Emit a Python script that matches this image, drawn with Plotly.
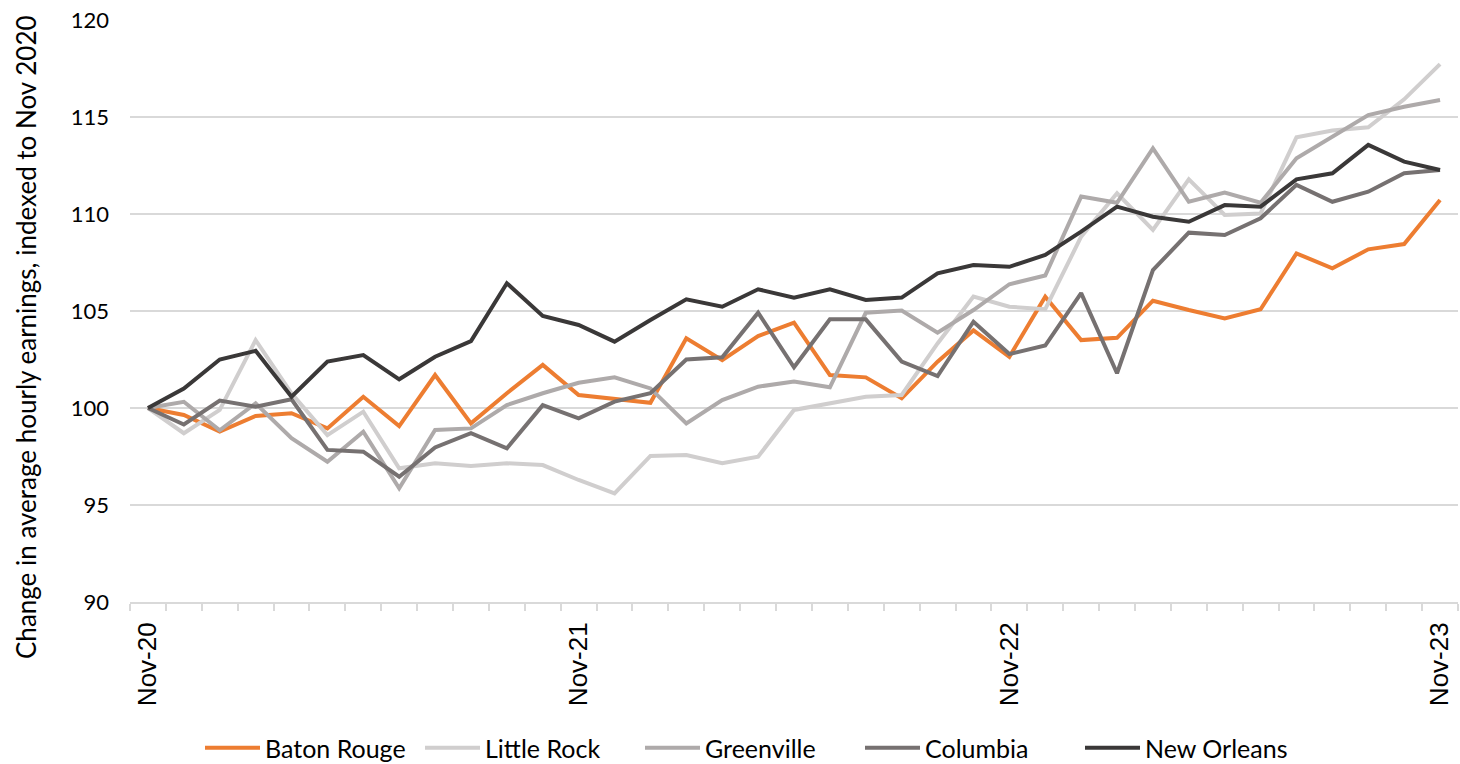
import plotly.graph_objects as go

months = ["Nov-20", "Dec-20", "Jan-21", "Feb-21", "Mar-21", "Apr-21", "May-21", "Jun-21",
          "Jul-21", "Aug-21", "Sep-21", "Oct-21", "Nov-21", "Dec-21", "Jan-22", "Feb-22",
          "Mar-22", "Apr-22", "May-22", "Jun-22", "Jul-22", "Aug-22", "Sep-22", "Oct-22",
          "Nov-22", "Dec-22", "Jan-23", "Feb-23", "Mar-23", "Apr-23", "May-23", "Jun-23",
          "Jul-23", "Aug-23", "Sep-23", "Oct-23", "Nov-23"]

baton_rouge = [100.0, 99.64, 98.78, 99.59, 99.73, 98.95, 100.58, 99.07, 101.7, 99.21,
               100.76, 102.22, 100.67, 100.45, 100.27, 103.59, 102.47, 103.71, 104.4, 101.7,
               101.58, 100.5, 102.39, 104.0, 102.64, 105.74, 103.5, 103.62, 105.53, 105.05,
               104.62, 105.09, 107.97, 107.2, 108.18, 108.45, 110.72]

little_rock = [100.0, 98.7, 99.9, 103.5, 100.76, 98.6, 99.81, 96.89, 97.15, 97.01,
               97.15, 97.06, 96.29, 95.6, 97.53, 97.58, 97.15, 97.49, 99.9, 100.24,
               100.58, 100.67, 103.33, 105.74, 105.22, 105.09, 108.83, 111.07, 109.18, 111.79,
               109.95, 110.03, 113.95, 114.3, 114.47, 115.91, 117.73]

greenville = [100.0, 100.32, 98.85, 100.24, 98.44, 97.23, 98.78, 95.86, 98.87, 98.95,
              100.15, 100.76, 101.3, 101.58, 101.01, 99.21, 100.41, 101.1, 101.36, 101.07,
              104.91, 105.02, 103.88, 105.05, 106.38, 106.83, 110.9, 110.58, 113.38, 110.63,
              111.1, 110.58, 112.87, 114.0, 115.1, 115.53, 115.88]

columbia = [100.0, 99.15, 100.38, 100.07, 100.45, 97.84, 97.75, 96.46, 97.97, 98.7,
            97.92, 100.15, 99.47, 100.33, 100.76, 102.5, 102.61, 104.91, 102.1, 104.57,
            104.57, 102.39, 101.65, 104.45, 102.78, 103.22, 105.92, 101.79, 107.11, 109.04,
            108.92, 109.78, 111.5, 110.63, 111.15, 112.1, 112.27]

new_orleans = [100.0, 101.0, 102.5, 102.95, 100.58, 102.39, 102.73, 101.48, 102.64, 103.45,
               106.43, 104.74, 104.28, 103.42, 104.54, 105.6, 105.22, 106.12, 105.69, 106.12,
               105.57, 105.69, 106.94, 107.37, 107.28, 107.89, 109.09, 110.38, 109.86, 109.6,
               110.46, 110.38, 111.79, 112.1, 113.56, 112.7, 112.27]

series = [
    ("Baton Rouge", baton_rouge, "#ED7D31"),
    ("Little Rock", little_rock, "#D0CECE"),
    ("Greenville", greenville, "#AEAAAA"),
    ("Columbia", columbia, "#767171"),
    ("New Orleans", new_orleans, "#3A3838"),
]

FONT = "Lato"

W, H = 1460, 764
L, T, R, B = 130, 20, 2, 162
PH = H - T - B
PW = W - L - R

fig = go.Figure()
for name, vals, col in series:
    fig.add_trace(go.Scatter(x=months, y=vals, mode="lines", name=name,
                             line=dict(color=col, width=4)))

ticktext = [m if m.startswith("Nov") else "" for m in months]

fig.update_layout(
    width=W, height=H,
    margin=dict(l=L, r=R, t=T, b=B, autoexpand=False),
    paper_bgcolor="white", plot_bgcolor="white",
    font=dict(family=FONT, size=22, color="#000000"),
    showlegend=True,
    legend=dict(orientation="h", x=(750 - L) / PW, xanchor="center",
                y=(H - B - 748) / PH, yanchor="middle",
                font=dict(family=FONT, size=25, color="#000000"),
                itemwidth=55, entrywidth=150, entrywidthmode="pixels"),
    xaxis=dict(type="category", range=[-0.5, 36.5], tickmode="array",
               tickvals=months, ticktext=ticktext, tickson="boundaries",
               ticks="outside", ticklen=7, tickcolor="#D9D9D9", tickwidth=1.5,
               tickangle=-90, showgrid=False, showline=True, linecolor="#D9D9D9",
               linewidth=1.8, ticklabelstandoff=8, automargin=False,
               tickfont=dict(family="Liberation Sans", size=26, color="#000000")),
    yaxis=dict(range=[90, 120.001], dtick=5, tick0=90, showgrid=True, gridcolor="#D9D9D9",
               gridwidth=1.8, zeroline=False, showline=False, ticks="",
               ticklabelstandoff=20, automargin=False,
               tickfont=dict(family=FONT, size=22, color="#000000")),
)

fig.add_annotation(
    text="Change in average hourly earnings, indexed to Nov 2020",
    xref="paper", yref="paper", x=(26 - L) / PW, y=(H - B - 337) / PH,
    xanchor="center", yanchor="middle", textangle=-90, showarrow=False,
    font=dict(family=FONT, size=26, color="#000000"),
)

fig.write_html("out.html", config={"displayModeBar": False},
               post_script="document.body.style.margin='0';document.body.style.overflow='hidden';")
